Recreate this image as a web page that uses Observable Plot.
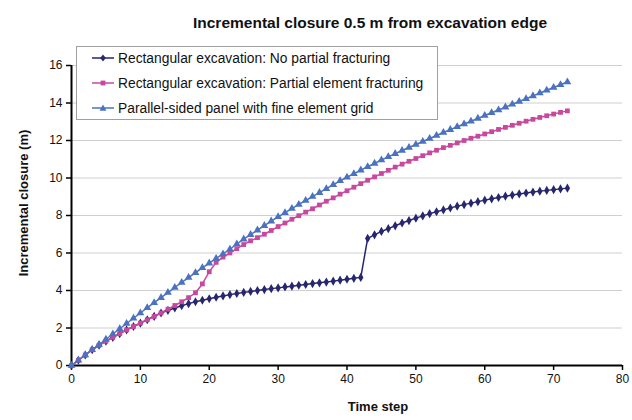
<!DOCTYPE html>
<html><head><meta charset="utf-8">
<script src="https://cdn.jsdelivr.net/npm/d3@7"></script>
<script src="https://cdn.jsdelivr.net/npm/@observablehq/plot@0.6"></script>
<style>
body{margin:0;background:#fff;font-family:"Liberation Sans",Arial,sans-serif;}
#wrap{position:relative;width:632px;height:420px;overflow:hidden;background:#fff}
#title{position:absolute;left:120px;width:500px;top:14px;text-align:center;font-weight:bold;font-size:15.5px;color:#111}
#xlab{position:absolute;left:278px;width:200px;top:399px;text-align:center;font-weight:bold;font-size:13px;color:#111}
#ylab{position:absolute;left:23px;top:203px;transform:translate(-50%,-50%) rotate(-90deg);white-space:nowrap;font-weight:bold;font-size:13px;color:#111}
#legend{position:absolute;left:76px;top:46px;width:362px;height:74px;border:1px solid #a0a0a0;background:#fff;box-sizing:border-box}
.row{position:absolute;left:14px;height:20px;display:flex;align-items:center;font-size:13.8px;color:#111;white-space:nowrap}
.row svg{margin-right:3px}
</style></head><body>
<div id="wrap"><div id="chart"></div>
<div id="title">Incremental closure 0.5 m from excavation edge</div>
<div id="xlab">Time step</div>
<div id="ylab">Incremental closure (m)</div>
<div id="legend"></div>
</div>
<script>
const timeSteps = d3.range(0, 73);
const seriesNames = [
  "Rectangular excavation: No partial fracturing",
  "Rectangular excavation: Partial element fracturing",
  "Parallel-sided panel with fine element grid"
];
const noFracturing = [0,0.28,0.56,0.84,1.08,1.3,1.5,1.7,1.9,2.08,2.26,2.44,2.62,2.8,2.94,3.07,3.19,3.3,3.4,3.48,3.56,3.64,3.71,3.78,3.84,3.9,3.95,4.0,4.05,4.1,4.14,4.19,4.23,4.28,4.32,4.37,4.41,4.45,4.5,4.55,4.6,4.65,4.7,6.78,6.97,7.15,7.3,7.45,7.6,7.73,7.86,7.98,8.1,8.2,8.3,8.4,8.5,8.58,8.66,8.74,8.82,8.89,8.96,9.03,9.09,9.15,9.2,9.25,9.3,9.34,9.38,9.42,9.46];
const partialFracturing = [0,0.28,0.56,0.84,1.08,1.3,1.5,1.7,1.9,2.08,2.26,2.44,2.62,2.8,3.0,3.2,3.4,3.62,3.88,4.35,5.0,5.5,5.78,6.0,6.23,6.45,6.65,6.82,7.0,7.2,7.41,7.6,7.8,7.99,8.18,8.36,8.56,8.76,8.94,9.14,9.32,9.51,9.7,9.88,10.06,10.24,10.41,10.58,10.74,10.89,11.04,11.19,11.34,11.48,11.62,11.74,11.87,12.0,12.12,12.23,12.35,12.47,12.59,12.7,12.81,12.92,13.03,13.13,13.23,13.32,13.41,13.5,13.58];
const fineGrid = [0,0.28,0.56,0.84,1.12,1.4,1.68,1.96,2.24,2.52,2.8,3.08,3.35,3.62,3.89,4.16,4.43,4.69,4.95,5.21,5.46,5.71,5.95,6.2,6.48,6.74,6.98,7.22,7.46,7.7,7.93,8.15,8.37,8.59,8.8,9.01,9.22,9.43,9.64,9.85,10.04,10.23,10.42,10.6,10.78,10.96,11.13,11.3,11.47,11.63,11.79,11.95,12.11,12.27,12.43,12.58,12.73,12.88,13.03,13.18,13.33,13.48,13.63,13.78,13.93,14.08,14.23,14.38,14.53,14.68,14.83,14.97,15.12];
const xTicks = [0,10,20,30,40,50,60,70,80];
const yTicks = [0,2,4,6,8,10,12,14,16];
const colors = ["#27266e", "#c8489e", "#4a72c0"];
const symbols = ["diamond", "square", "triangle"];
const sizes = [2.8, 2.7, 2.9];

const allSeries = [noFracturing, partialFracturing, fineGrid];
const data = [];
allSeries.forEach((vals, i) => timeSteps.forEach((t, j) => data.push({t, v: vals[j], s: seriesNames[i]})));

const plot = Plot.plot({
  width: 632, height: 420,
  marginTop: 65, marginBottom: 55, marginLeft: 71, marginRight: 10,
  style: {fontFamily: "Liberation Sans, Arial, sans-serif", fontSize: "12px", color: "#111", background: "#fff"},
  x: {domain: [0, 80], label: null},
  y: {domain: [0, 16], label: null},
  marks: [
    Plot.gridY(yTicks.filter(d => d > 0), {stroke: "#cfcfcf", strokeOpacity: 1, strokeWidth: 1.2}),
    Plot.axisX(xTicks, {tickSize: 5, tickPadding: 4, stroke: "#000", strokeWidth: 1.5, label: null}),
    Plot.axisY(yTicks, {tickSize: 5, tickPadding: 4, stroke: "#000", strokeWidth: 1.5, label: null}),
    Plot.ruleY([0], {stroke: "#000", strokeWidth: 2}),
    Plot.ruleX([0], {stroke: "#000", strokeWidth: 2}),
    ...seriesNames.map((name, i) => Plot.line(data.filter(d => d.s === name), {x: "t", y: "v", stroke: colors[i], strokeWidth: 1.5})),
    ...seriesNames.map((name, i) => Plot.dot(data.filter(d => d.s === name), {x: "t", y: "v", fill: colors[i], stroke: "none", symbol: symbols[i], r: sizes[i]}))
  ]
});
document.getElementById("chart").appendChild(plot);

// legend
const leg = document.getElementById("legend");
const symPaths = {
  diamond: "M12,1.5 L14.8,5 L12,8.5 L9.2,5 Z",
  square: "M9.6,2.6 H14.4 V7.4 H9.6 Z",
  triangle: "M12,1.4 L15.4,7.7 L8.6,7.7 Z"
};
seriesNames.forEach((name, i) => {
  const row = document.createElement("div");
  row.className = "row";
  row.style.top = (1 + i * 25) + "px";
  row.innerHTML = `<svg width="24" height="10"><line x1="1" x2="23" y1="5" y2="5" stroke="${colors[i]}" stroke-width="1.5"/><path d="${symPaths[symbols[i]]}" fill="${colors[i]}"/></svg><span>${name}</span>`;
  leg.appendChild(row);
});
</script>
</body></html>
